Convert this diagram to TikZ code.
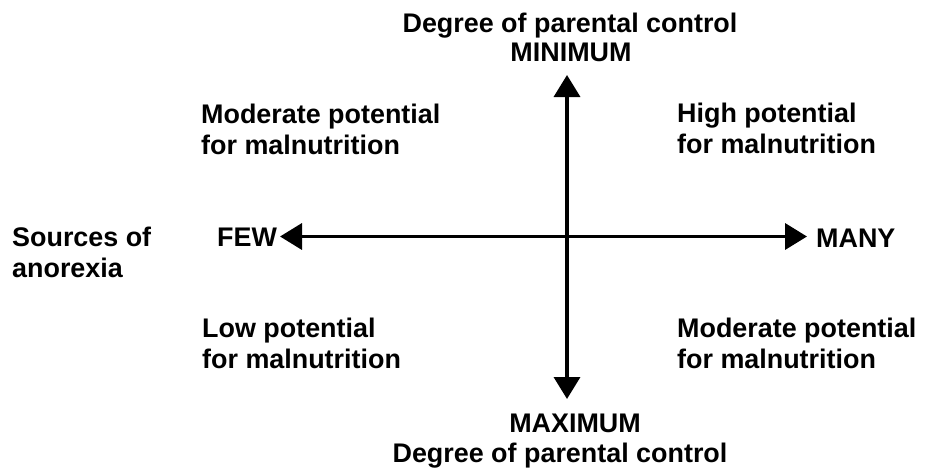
\documentclass[tikz,border=0pt]{standalone}
\usepackage{fontspec}
\setmainfont{Liberation Sans}
\usetikzlibrary{arrows.meta}
\begin{document}
\begin{tikzpicture}[x=1pt,y=-1pt,
  lbl/.style={inner sep=0pt, font=\fontsize{26.9}{30.8}\selectfont\bfseries},
  axis/.style={line width=3.6pt, {Triangle[length=22pt,width=26pt]}-{Triangle[length=22pt,width=26pt]}}]
\fill[white] (0,0) rectangle (926,471);
\useasboundingbox (0,0) rectangle (926,471);
% axis end points
\coordinate (L) at (280,236.5);
\coordinate (R) at (807,236.5);
\coordinate (T) at (567,75);
\coordinate (B) at (567,399);
\draw[axis] (L) -- (R);
\draw[axis] (T) -- (B);
% labels (base anchor of a multi-line node = baseline of its last line)
\node[lbl, anchor=base] (toptitle) at (570,32) {Degree of parental control};
\node[lbl, anchor=base] (minlbl) at (571,61) {MINIMUM};
\node[lbl, anchor=base] (maxlbl) at (575,432) {MAXIMUM};
\node[lbl, anchor=base] (bottitle) at (560,462) {Degree of parental control};
\node[lbl, anchor=base west, align=left] (sources) at (12,277.5) {Sources of\\anorexia};
\node[lbl, anchor=base west] (few) at (217,246) {FEW};
\node[lbl, anchor=base west] (many) at (816,247) {MANY};
\node[lbl, anchor=base west, align=left] (ul) at (201,154) {Moderate potential\\for malnutrition};
\node[lbl, anchor=base west, align=left] (ur) at (677,153) {High potential\\for malnutrition};
\node[lbl, anchor=base west, align=left] (ll) at (202,368) {Low potential\\for malnutrition};
\node[lbl, anchor=base west, align=left] (lr) at (677,368) {Moderate potential\\for malnutrition};
\end{tikzpicture}
\end{document}
